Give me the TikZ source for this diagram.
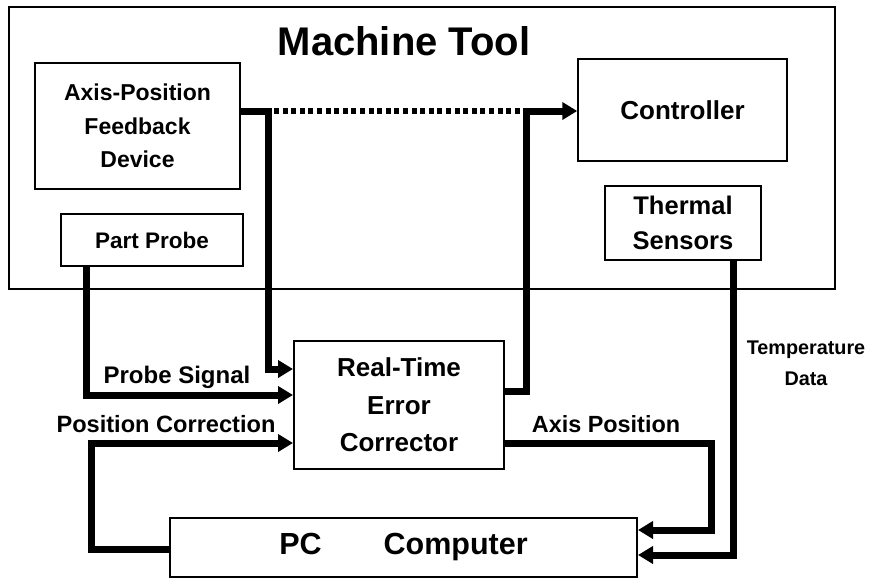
\documentclass[tikz,border=0pt]{standalone}
\usepackage{fontspec}
\setmainfont{Liberation Sans}
\usetikzlibrary{arrows.meta}
\newcommand{\fsz}[2]{\fontsize{#1}{#2}\selectfont\bfseries}
\begin{document}
\begin{tikzpicture}[x=1pt,y=-1pt,
  box/.style={draw, line width=1.5pt, inner sep=0pt, align=center},
  conn/.style={line width=7pt, line join=miter},
  arr/.style={conn, -{Triangle[length=15pt,width=17pt]}},
  dotline/.style={line width=6pt, dash pattern=on 5pt off 3.6pt},
  lbl/.style={inner sep=0pt, align=center}]
\useasboundingbox (0,0) rectangle (869,578);
% machine tool frame
\node[draw, line width=2.5pt, minimum width=826pt, minimum height=282pt, inner sep=0pt] (mt) at (422,148) {};
\node[lbl, font=\fsz{40}{44}, anchor=base] (title) at (404,56) {Machine Tool};
% boxes
\node[box, minimum width=205pt, minimum height=126pt, font=\fsz{23}{33.5}] (axis) at (137.5,126) {Axis-Position\\Feedback\\Device};
\node[box, minimum width=182pt, minimum height=52pt, font=\fsz{22.5}{27}] (probe) at (152,240) {Part Probe};
\node[box, minimum width=209pt, minimum height=102pt, font=\fsz{26}{30}] (ctrl) at (682.5,110) {Controller};
\node[box, minimum width=156pt, minimum height=74pt, font=\fsz{25.5}{35}] (therm) at (683,223) {Thermal\\Sensors};
\node[box, line width=2pt, minimum width=210pt, minimum height=128pt, font=\fsz{26}{37.5}] (corr) at (399,405) {Real-Time\\Error\\Corrector};
\node[box, line width=2pt, minimum width=467pt, minimum height=59pt, font=\fsz{30.5}{34}] (pc) at (403.5,547.5) {PC\hspace{62pt}Computer};
% junctions
\coordinate (jA) at (268,111);
\coordinate (jB) at (526,111);
% connectors
\draw[arr] (axis.east |- jA) -- (jA) |- (corr.west |- 0,369);
\draw[dotline] ([xshift=6pt]jA) -- ([xshift=-6pt]jB);
\draw[arr] (corr.east |- 0,391) -| (jB) -- (ctrl.west |- jB);
\draw[arr] (86,0 |- probe.south) |- (corr.west |- 0,395);
\draw[arr] (pc.west |- 0,549) -| (91,443) -- (corr.west |- 0,443);
\draw[arr] (corr.east |- 0,443) -| (711,530) -- (pc.east |- 0,530);
\draw[arr] (733,0 |- therm.south) |- (pc.east |- 0,555);
% labels
\node[lbl, font=\fsz{24}{28}] (lprobe) at (177,377) {Probe Signal};
\node[lbl, font=\fsz{23.6}{28}] (lposc) at (166,424) {Position Correction};
\node[lbl, font=\fsz{23.4}{28}] (laxis) at (606,424) {Axis Position};
\node[lbl, font=\fsz{19.8}{31}] (ltemp) at (806,363) {Temperature\\Data};
\end{tikzpicture}
\end{document}
